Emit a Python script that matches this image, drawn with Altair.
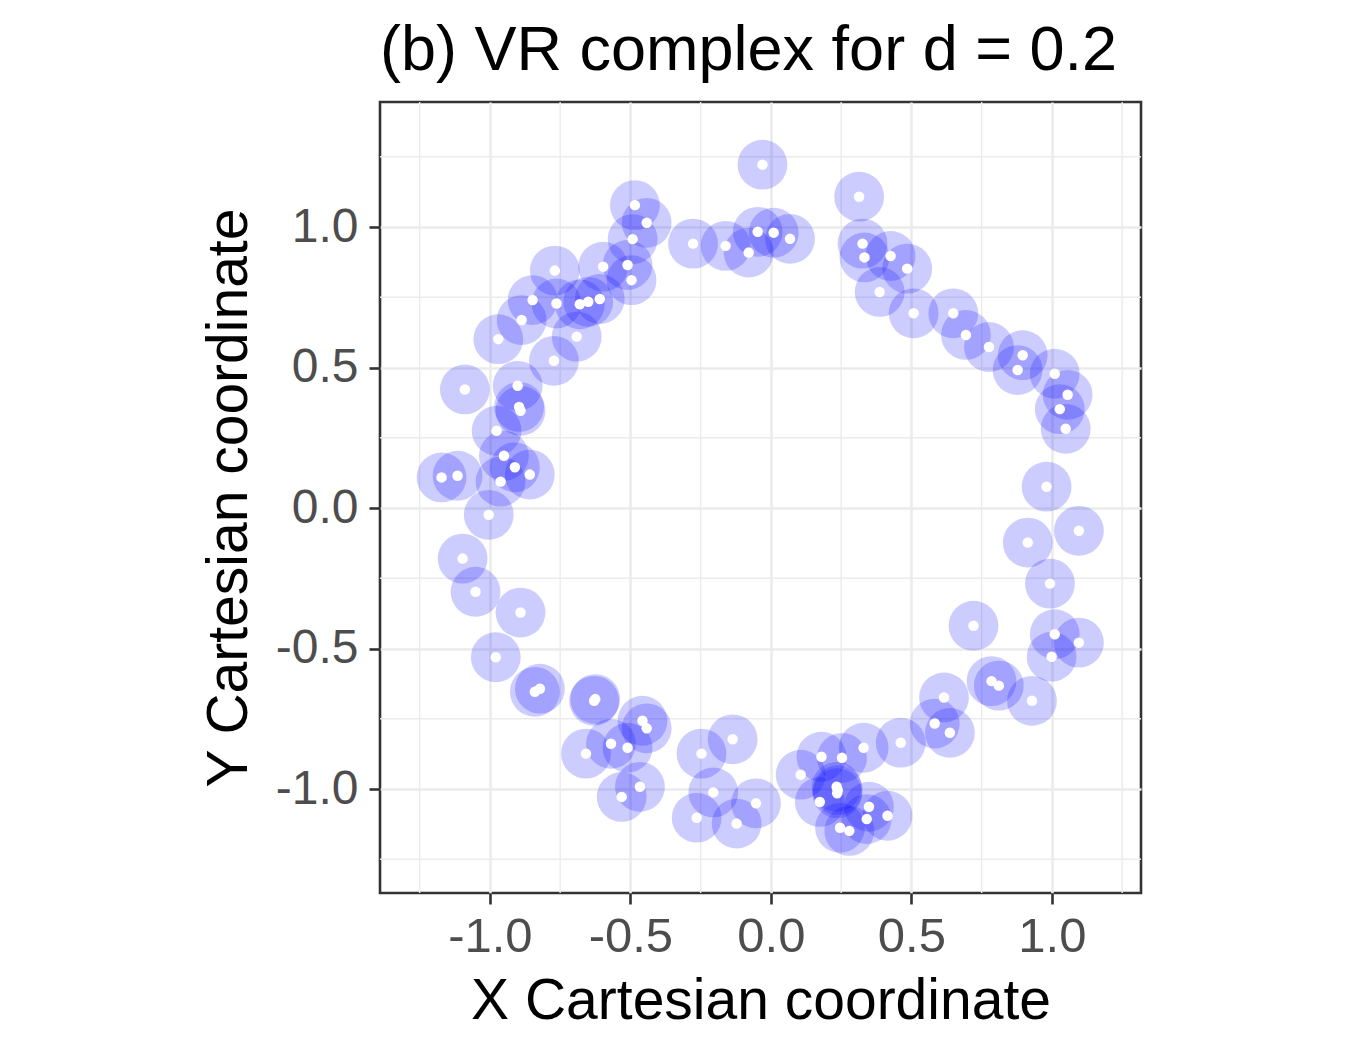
import altair as alt
import pandas as pd
import math

# Point coordinates (data units)
xs = [-0.484, -0.442, -0.492, -0.277, -0.597, -0.510, -0.496, -0.769, -0.848, -0.763,
      -0.680, -0.650, -0.609, -0.887, -0.970, -0.691, -0.772, -0.030, -0.161, -0.079,
      -0.047, 0.010, 0.068, 0.314, 0.326, 0.333, 0.426, 0.485, 0.387, 0.508,
      0.649, 0.694, 0.776, 0.896, 0.878, 1.010, 1.056, 1.028, 1.049, 0.981,
      -1.089, -0.901, -0.896, -0.891, -0.976, -0.950, -0.911, -0.858, -0.962, -1.172,
      -1.115, -1.004, -1.097, -1.051, -0.891, -0.979, -0.840, -0.822, -0.629, -0.625,
      -0.457, -0.442, -0.569, -0.510, -0.658, -0.466, -0.531, -0.247, -0.136, -0.205,
      -0.264, -0.122, -0.053, 0.106, 0.180, 0.253, 0.330, 0.462, 0.616, 0.583,
      0.637, 0.234, 0.236, 0.238, 0.174, 0.349, 0.341, 0.415, 0.246, 0.279,
      1.096, 0.914, 0.993, 0.721, 1.010, 1.096, 0.999, 0.785, 0.811, 0.929]
ys = [1.078, 1.015, 0.957, 0.941, 0.859, 0.865, 0.811, 0.845, 0.740, 0.728,
      0.725, 0.734, 0.744, 0.669, 0.601, 0.610, 0.524, 1.222, 0.933, 0.909,
      0.983, 0.980, 0.958, 1.108, 0.941, 0.892, 0.897, 0.852, 0.769, 0.693,
      0.693, 0.616, 0.573, 0.544, 0.491, 0.478, 0.403, 0.352, 0.282, 0.076,
      0.422, 0.435, 0.360, 0.346, 0.275, 0.186, 0.145, 0.119, 0.094, 0.109,
      0.115, -0.024, -0.180, -0.298, -0.372, -0.531, -0.654, -0.643, -0.686, -0.680,
      -0.757, -0.784, -0.839, -0.853, -0.874, -0.992, -1.028, -0.874, -0.823, -1.012,
      -1.102, -1.123, -1.051, -0.949, -0.885, -0.889, -0.853, -0.835, -0.674, -0.767,
      -0.800, -0.992, -1.015, -1.004, -1.046, -1.063, -1.107, -1.095, -1.138, -1.149,
      -0.081, -0.123, -0.269, -0.419, -0.449, -0.479, -0.529, -0.616, -0.632, -0.686]

major_ticks = [-1.0, -0.5, 0.0, 0.5, 1.0]
minor_ticks = [-1.25, -0.75, -0.25, 0.25, 0.75, 1.25]
x_domain = [-1.391, 1.317]
y_domain = [-1.370, 1.445]
radius = 0.1  # d / 2

W, H = 761, 791
px_per_unit = W / (x_domain[1] - x_domain[0])
circle_size = math.pi * (radius * px_per_unit) ** 2

df = pd.DataFrame({"x": xs, "y": ys})
minor_df = pd.DataFrame({"v": minor_ticks})

FONT = "Liberation Sans"
label_expr = "datum.value < 0 ? '-' + format(-datum.value, '.1f') : format(datum.value, '.1f')"

xscale = alt.Scale(domain=x_domain, nice=False, zero=False)
yscale = alt.Scale(domain=y_domain, nice=False, zero=False)

xaxis = alt.Axis(values=major_ticks, labelExpr=label_expr, title="X Cartesian coordinate",
                 grid=True, gridColor="#EBEBEB", gridWidth=2.6, domain=False,
                 tickColor="#333333", tickWidth=2.6, tickSize=11,
                 labelFontSize=49, labelColor="#4D4D4D", labelPadding=8,
                 titleFontSize=57, titleColor="black", titleFontWeight="normal",
                 titlePadding=12, labelFont=FONT, titleFont=FONT)
yaxis = alt.Axis(values=major_ticks, labelExpr=label_expr, title="Y Cartesian coordinate",
                 grid=True, gridColor="#EBEBEB", gridWidth=2.6, domain=False,
                 tickColor="#333333", tickWidth=2.6, tickSize=11,
                 labelFontSize=48, labelColor="#4D4D4D", labelPadding=11,
                 titleFontSize=57, titleColor="black", titleFontWeight="normal",
                 titlePadding=17, labelFont=FONT, titleFont=FONT)

minor_x = alt.Chart(minor_df).mark_rule(color="#EBEBEB", strokeWidth=1.4).encode(
    x=alt.X("v:Q", scale=xscale, axis=xaxis))
minor_y = alt.Chart(minor_df).mark_rule(color="#EBEBEB", strokeWidth=1.4).encode(
    y=alt.Y("v:Q", scale=yscale, axis=yaxis))

circles = alt.Chart(df).mark_circle(color="#0000FF", opacity=0.2, size=circle_size).encode(
    x=alt.X("x:Q", scale=xscale, axis=xaxis),
    y=alt.Y("y:Q", scale=yscale, axis=yaxis))
points = alt.Chart(df).mark_point(shape="circle", filled=True, fill="#FFFFFF",
                                  fillOpacity=1, opacity=1, strokeWidth=0,
                                  size=110).encode(
    x=alt.X("x:Q", scale=xscale, axis=xaxis),
    y=alt.Y("y:Q", scale=yscale, axis=yaxis))

chart = alt.layer(minor_x, minor_y, circles, points).properties(
    width=W, height=H,
    title=alt.TitleParams("(b) VR complex for d = 0.2", anchor="start", frame="group",
                          fontSize=63, font=FONT, fontWeight="normal", color="black",
                          offset=18),
    autosize=alt.AutoSizeParams(type="none"),
    padding={"left": 380, "top": 102, "right": 209, "bottom": 157},
).configure(font=FONT, background="white").configure_view(stroke="#333333", strokeWidth=2.6)

chart.save("out.html", embed_options={"renderer": "svg", "actions": False})
